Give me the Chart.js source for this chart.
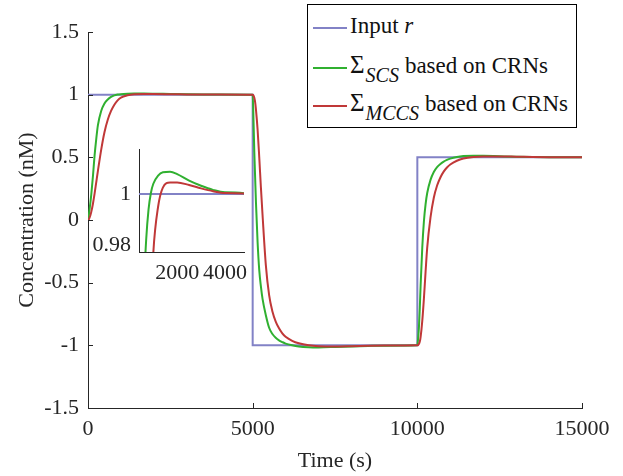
<!DOCTYPE html>
<html>
<head>
<meta charset="utf-8">
<script src="https://cdn.jsdelivr.net/npm/chart.js@4.4.1/dist/chart.umd.min.js"></script>
<style>
  body { margin: 0; background: #fff; }
  #wrap { position: relative; width: 623px; height: 476px; }
  #main { position: absolute; left: 0; top: 0; }
  #inset { position: absolute; left: 85px; top: 140px; }
  #legend {
    position: absolute; left: 307px; top: 4px; width: 270px; height: 124px;
    box-sizing: border-box; border: 1px solid #000; background: #fff;
    font-family: 'Liberation Serif', 'Times New Roman', serif; font-size: 23px; color: #111;
  }
  #legend .row { position: absolute; left: 5px; height: 30px; line-height: 30px; white-space: nowrap; }
  #legend .ln { display: inline-block; width: 34px; border-top: 2px solid; vertical-align: middle; margin-right: 3px; }
  #legend .sig { font-size: 25px; }
  #legend sub { font-style: italic; font-size: 20px; vertical-align: -9px; line-height: 0; margin-left: 1px; margin-right: 6px; }
</style>
</head>
<body>
<div id="wrap">
  <canvas id="main" width="623" height="476"></canvas>
  <canvas id="inset" width="170" height="145"></canvas>
  <div id="legend">
    <div class="row" style="top:6px"><span class="ln" style="border-color:#8282c6"></span>Input <i>r</i></div>
    <div class="row" style="top:45px"><span class="ln" style="border-color:#30b030"></span><span class="sig">Σ</span><sub>SCS</sub>based on CRNs</div>
    <div class="row" style="top:83px"><span class="ln" style="border-color:#c03838"></span><span class="sig">Σ</span><sub>MCCS</sub>based on CRNs</div>
  </div>
</div>
<script>
// time (s)
const TIME = [0,25,50,75,100,150,200,250,300,400,500,600,700,800,900,1000,1200,1400,1700,2000,2500,3000,3500,4000,
  5000,5025,5050,5075,5100,5150,5200,5250,5300,5400,5500,5600,5700,5800,5900,6000,6200,6400,6700,7000,7500,8000,8500,9000,
  10000,10025,10050,10075,10100,10150,10200,10250,10300,10400,10500,10600,10700,10800,10900,11000,11200,11400,11700,12000,12500,13000,13500,14000,
  15000];

// Sigma_SCS output (nM)
const SCS = [0,0.04,0.09,0.145,0.205,0.35,0.515,0.645,0.755,0.87,0.93,0.962,0.982,0.994,1.0005,1.004,1.0072,1.0085,1.0087,1.0078,1.0052,1.0032,1.0016,1.0007,
  1,0.8,0.54,0.34,0.14,-0.18,-0.40,-0.53,-0.63,-0.76,-0.86,-0.91,-0.94,-0.96,-0.974,-0.986,-1.0,-1.009,-1.015,-1.0164,-1.013,-1.0084,-1.0048,-1.0024,
  -1,-0.94,-0.85,-0.70,-0.52,-0.22,-0.01,0.125,0.215,0.32,0.383,0.422,0.4475,0.4655,0.479,0.4895,0.503,0.5105,0.5135,0.512,0.5083,0.5048,0.5026,0.5012,
  0.5];

// Sigma_MCCS output (nM)
const MCCS = [0,0.005,0.02,0.04,0.065,0.13,0.21,0.30,0.39,0.56,0.70,0.80,0.87,0.92,0.955,0.977,0.995,1.0025,1.0045,1.0045,1.0035,1.0022,1.0011,1.0004,
  1,0.994,0.976,0.94,0.88,0.72,0.50,0.26,0.04,-0.36,-0.60,-0.73,-0.81,-0.864,-0.904,-0.932,-0.964,-0.984,-1.0,-1.007,-1.009,-1.007,-1.004,-1.002,
  -1,-0.997,-0.988,-0.97,-0.9325,-0.805,-0.625,-0.415,-0.22,0.02,0.1775,0.275,0.3395,0.386,0.419,0.443,0.473,0.491,0.503,0.5068,0.5072,0.5053,0.503,0.5015,
  0.5];

// input r
const INPUT_T = [0,5000,5000,10000,10000,15000];
const INPUT = [1,1,-1,-1,0.5,0.5];

const serif = "'Liberation Serif', 'Times New Roman', serif";
Chart.defaults.font.family = serif;
Chart.defaults.color = '#262626';

const pts = (xs, ys) => xs.map((x, i) => ({ x, y: ys[i] }));

function makeDatasets() {
  return [
    { label: 'Input r', data: pts(INPUT_T, INPUT), borderColor: '#8282c6', borderWidth: 2, tension: 0, order: 3 },
    { label: 'SCS', data: pts(TIME, SCS), borderColor: '#30b030', borderWidth: 2, cubicInterpolationMode: 'monotone', order: 2 },
    { label: 'MCCS', data: pts(TIME, MCCS), borderColor: '#c03838', borderWidth: 2, cubicInterpolationMode: 'monotone', order: 1 }
  ];
}

// matlab style ticks pointing into the plot
const inwardTicks = {
  id: 'inwardTicks',
  afterDraw(chart, args, opts) {
    if (!opts.len) return;
    const { ctx, chartArea: a, scales: { x, y } } = chart;
    ctx.save();
    ctx.strokeStyle = '#262626';
    ctx.lineWidth = 1;
    ctx.beginPath();
    x.ticks.forEach(t => {
      const px = Math.round(x.getPixelForValue(t.value)) + 0.5;
      ctx.moveTo(px, a.bottom); ctx.lineTo(px, a.bottom - opts.len);
    });
    y.ticks.forEach(t => {
      const py = Math.round(y.getPixelForValue(t.value)) + 0.5;
      ctx.moveTo(a.left, py); ctx.lineTo(a.left + opts.len, py);
    });
    ctx.stroke();
    ctx.restore();
  }
};

new Chart(document.getElementById('main'), {
  type: 'line',
  data: { datasets: makeDatasets() },
  plugins: [inwardTicks],
  options: {
    responsive: false,
    animation: false,
    elements: { point: { radius: 0 } },
    layout: { padding: { top: 32, right: 41, left: 0, bottom: 0 } },
    plugins: { legend: { display: false }, tooltip: { enabled: false }, inwardTicks: { len: 5 } },
    scales: {
      x: {
        type: 'linear', min: 0, max: 15000,
        ticks: { stepSize: 5000, font: { size: 22 }, padding: 8, maxRotation: 0, callback: v => String(v) },
        grid: { display: false, drawTicks: false },
        border: { color: '#262626' },
        title: { display: true, text: 'Time (s)', font: { size: 22 }, padding: { top: 0, bottom: 2 } },
        afterFit: s => { s.height = 68; }
      },
      y: {
        min: -1.5, max: 1.5,
        ticks: { stepSize: 0.5, font: { size: 22 }, padding: 9, callback: v => String(Math.round(v * 10) / 10) },
        grid: { display: false, drawTicks: false },
        border: { color: '#262626' },
        title: { display: true, text: 'Concentration (nM)', font: { size: 22 }, padding: { top: 14, bottom: 0 } },
        afterFit: s => { s.width = 88; }
      }
    }
  }
});

new Chart(document.getElementById('inset'), {
  type: 'line',
  data: { datasets: makeDatasets() },
  options: {
    responsive: false,
    animation: false,
    elements: { point: { radius: 0 } },
    layout: { padding: { top: 9, right: 11, left: 0, bottom: 0 } },
    plugins: { legend: { display: false }, tooltip: { enabled: false } },
    scales: {
      x: {
        type: 'linear', min: 400, max: 4800,
        afterBuildTicks: s => { s.ticks = [{ value: 2000 }, { value: 4000 }]; },
        ticks: { font: { size: 22 }, padding: 8, maxRotation: 0, autoSkip: false, callback: v => String(v) },
        grid: { display: false, drawTicks: false },
        border: { color: '#262626' },
        afterFit: s => { s.height = 33; s.paddingLeft = 0; s.paddingRight = 0; }
      },
      y: {
        min: 0.9773, max: 1.0176,
        afterBuildTicks: s => { s.ticks = [{ value: 0.98 }, { value: 1 }]; },
        ticks: { font: { size: 22 }, padding: 8, autoSkip: false, callback: v => String(v) },
        grid: { display: false, drawTicks: false },
        border: { color: '#262626' },
        afterFit: s => { s.width = 54; s.paddingTop = 0; s.paddingBottom = 0; }
      }
    }
  }
});
</script>
</body>
</html>
